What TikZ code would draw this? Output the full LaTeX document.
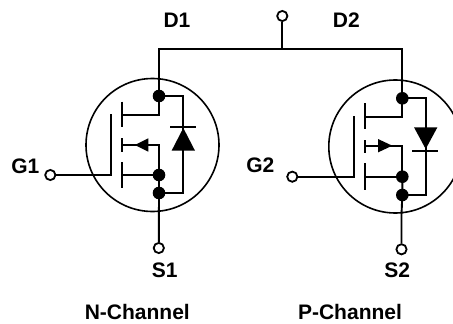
\documentclass[tikz,border=0pt]{standalone}
\usepackage{fontspec}
\setmainfont{Liberation Sans}
\begin{document}
\begin{tikzpicture}[x=1pt,y=-1pt,
  wire/.style={line width=1.9pt,black,line cap=butt,line join=miter},
  body/.style={circle,draw=black,line width=1.6pt,inner sep=0pt,minimum size=133pt},
  term/.style={circle,draw=black,fill=white,line width=1.8pt,inner sep=0pt,minimum size=10.2pt},
  dot/.style={circle,fill=black,inner sep=0pt,minimum size=12.6pt},
  lab/.style={font=\fontsize{21pt}{24pt}\selectfont\bfseries,inner sep=0pt,anchor=center},
  tip/.style={fill=black,draw=none}]
\useasboundingbox (0,0) rectangle (453,324);
\fill[white] (0,0) rectangle (453,324);
% bodies
\node[body] (b1) at (152.5,145) {};
\node[body] (b2) at (395.3,146.5) {};
% terminals
\node[term] (tD) at (282.3,16) {};
\node[term] (tG1) at (50.3,175) {};
\node[term] (tS1) at (158.8,248) {};
\node[term] (tG2) at (292.3,176.7) {};
\node[term] (tS2) at (401.5,249.3) {};
% junctions
\node[dot] (n1a) at (159,96) {};
\node[dot] (n1b) at (159,175) {};
\node[dot] (n1c) at (159,193) {};
\node[dot] (n2a) at (402.3,98.3) {};
\node[dot] (n2b) at (402.3,176.7) {};
\node[dot] (n2c) at (402.3,195) {};
\coordinate (top) at (282.3,48.7);
% top bus
\draw[wire] (n1a.center) -- (159,48.7) -- (402.3,48.7) -- (n2a.center);
\draw[wire] (tD) -- (top);
% N-channel
\draw[wire] (tG1) -- (111,175) -- (111,114);
\draw[wire] (122.3,101.7) -- (122.3,127.3);
\draw[wire] (122.3,138.3) -- (122.3,151.7);
\draw[wire] (122.3,162.3) -- (122.3,188.3);
\draw[wire] (n1a.center) -- (159,115) -- (122.3,115);
\draw[wire] (122.3,145) -- (159,145) -- (n1b.center);
\draw[wire] (122.3,175) -- (n1b.center);
\draw[wire] (n1b.center) -- (n1c.center) -- (tS1);
\draw[wire] (n1a.center) -- (183.3,96) -- (183.3,193) -- (n1c.center);
\fill[tip] (135,145) -- (148.3,138.3) -- (148.3,151.7) -- cycle;
\fill[tip] (183.3,128) -- (195,150.7) -- (171.6,150.7) -- cycle;
\draw[wire] (170,127) -- (196,127);
% P-channel
\draw[wire] (tG2) -- (353.7,176.7) -- (353.7,116);
\draw[wire] (365.3,103) -- (365.3,129);
\draw[wire] (365.3,140) -- (365.3,153.3);
\draw[wire] (365.3,163.3) -- (365.3,190);
\draw[wire] (n2a.center) -- (402.3,116.7) -- (365.3,116.7);
\draw[wire] (365.3,145.7) -- (402.3,145.7) -- (n2b.center);
\draw[wire] (365.3,176.7) -- (n2b.center);
\draw[wire] (n2b.center) -- (n2c.center) -- (401.5,215) -- (tS2);
\draw[wire] (n2a.center) -- (425.7,98.3) -- (425.7,195) -- (n2c.center);
\fill[tip] (392.3,145.7) -- (378,139) -- (378,152.4) -- cycle;
\fill[tip] (425.7,149) -- (437.4,127.3) -- (414,127.3) -- cycle;
\draw[wire] (412.3,151) -- (438,151);
% labels
\node[lab] (lD1) at (177,20) {D1};
\node[lab] (lD2) at (346.3,20) {D2};
\node[lab] (lG1) at (25.3,166) {G1};
\node[lab] (lG2) at (260.3,165) {G2};
\node[lab] (lS1) at (164.7,270) {S1};
\node[lab] (lS2) at (397.3,270) {S2};
\node[lab] (lN) at (137.3,312) {N-Channel};
\node[lab] (lP) at (350,312) {P-Channel};
\end{tikzpicture}
\end{document}
